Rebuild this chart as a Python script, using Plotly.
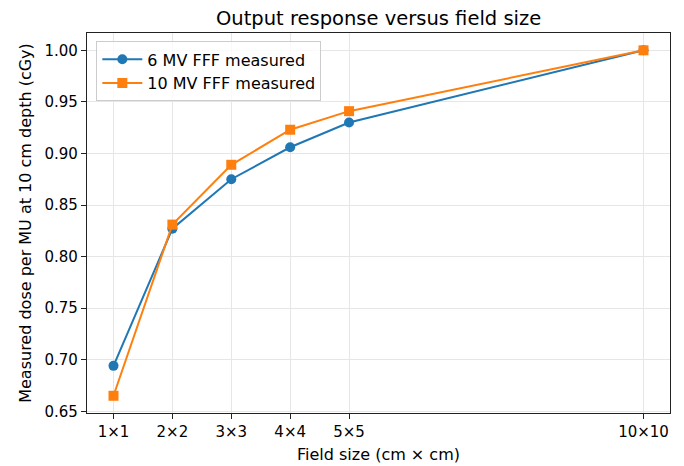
import plotly.graph_objects as go

field_sizes = [1, 2, 3, 4, 5, 10]
tick_labels = ["1×1", "2×2", "3×3", "4×4", "5×5", "10×10"]
mv6_values = [0.694, 0.827, 0.875, 0.906, 0.930, 1.000]
mv10_values = [0.665, 0.831, 0.889, 0.923, 0.941, 1.000]

font = "DejaVu Sans"

fig = go.Figure()
fig.add_trace(go.Scatter(
    x=field_sizes, y=mv6_values, mode="lines+markers",
    name="6 MV FFF measured",
    line=dict(color="#1f77b4", width=2),
    marker=dict(symbol="circle", size=10, color="#1f77b4"),
))
fig.add_trace(go.Scatter(
    x=field_sizes, y=mv10_values, mode="lines+markers",
    name="10 MV FFF measured",
    line=dict(color="#ff7f0e", width=2),
    marker=dict(symbol="square", size=10, color="#ff7f0e"),
))

axis_common = dict(
    showline=True, linecolor="#222222", linewidth=1.2, mirror=True,
    ticks="outside", ticklen=5, tickcolor="#222222", tickwidth=1,
    showgrid=True, gridcolor="#e6e6e6", gridwidth=1,
    zeroline=False, automargin=False,
    tickfont=dict(family=font, size=15, color="black"),
)

fig.update_layout(
    width=684, height=466,
    margin=dict(l=87, r=14, t=33, b=53),
    paper_bgcolor="white", plot_bgcolor="white",
    font=dict(family=font, size=16, color="black"),
    title=dict(text="Output response versus field size", x=0.5535, xanchor="center",
               y=0.961, yanchor="middle", font=dict(family=font, size=19.5, color="black")),
    showlegend=True,
    legend=dict(x=0.016, y=0.978, xanchor="left", yanchor="top",
                bgcolor="rgba(255,255,255,0.8)", bordercolor="#cccccc", borderwidth=1,
                font=dict(family=font, size=16, color="black"),
                itemwidth=40, tracegroupgap=0),
)

fig.update_xaxes(
    **axis_common,
    range=[0.55, 10.45],
    tickmode="array", tickvals=field_sizes, ticktext=tick_labels,
    title=dict(text="Field size (cm × cm)", font=dict(family=font, size=16, color="black"), standoff=8),
)
fig.update_yaxes(
    **axis_common,
    range=[0.6483, 1.0168],
    tickmode="array", tickvals=[0.65, 0.70, 0.75, 0.80, 0.85, 0.90, 0.95, 1.00],
    tickformat=".2f",
    title=dict(text="Measured dose per MU at 10 cm depth (cGy)", font=dict(family=font, size=16, color="black"), standoff=8),
)

fig.write_html("out.html", config={"displayModeBar": False},
               post_script="document.body.style.margin='0';")
